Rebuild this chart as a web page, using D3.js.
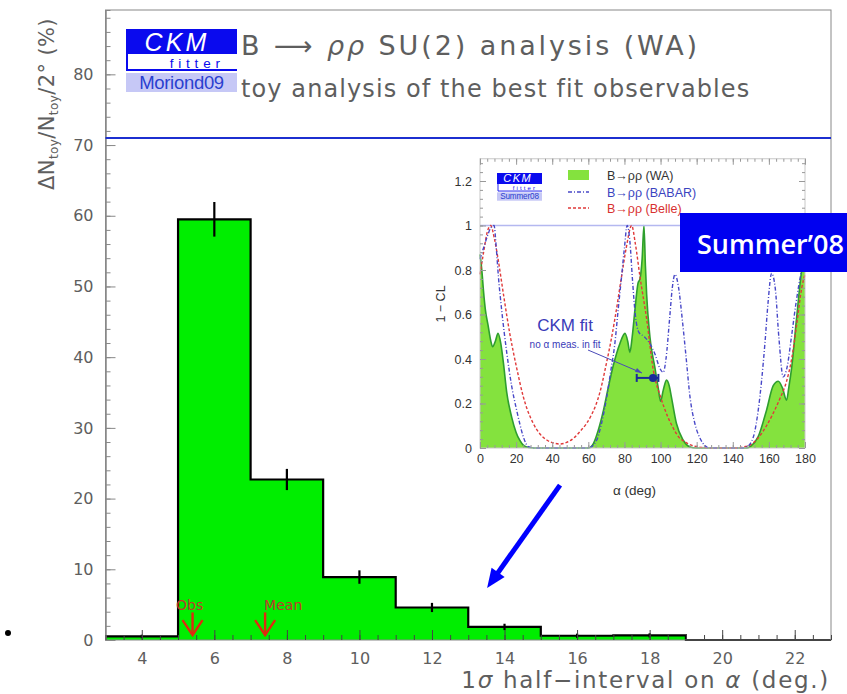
<!DOCTYPE html>
<html><head><meta charset="utf-8">
<script src="https://cdn.jsdelivr.net/npm/d3@7"></script>
<style>body{margin:0;background:#fff}svg{display:block}</style>
</head><body>
<svg id="c" width="847" height="694"></svg>
<script>
// ---- toy study histogram (1-sigma half interval on alpha) ----
const binEdges  = [3, 5, 7, 9, 11, 13, 15, 17, 19, 21, 23];
const binValues = [0.5, 59.5, 22.7, 8.9, 4.6, 1.85, 0.6, 0.65, 0, 0];
const binErrors = [0.25, 2.45, 1.5, 0.95, 0.65, 0.45, 0.3, 0.3, 0, 0];
const xTickLabels = [4, 6, 8, 10, 12, 14, 16, 18, 20, 22];
const yTickLabels = [0, 10, 20, 30, 40, 50, 60, 70, 80];
const markerNames  = ["Obs", "Mean"];
const markerValues = [5.4, 7.4];
const refLineLevel = 71;

// ---- inset: 1-CL versus alpha ----
const waAlpha = [0,1,2,3,4.5,6,7,8.5,10,11.5,13,14.8,17.5,20,22,24,27,30,60,62.8,65.5,68.4,71,73.8,77.5,80.3,81.8,83,84.3,85.8,87.5,88.6,89.8,90.8,91.6,92.3,94.1,96.9,98.7,100,101.5,103.3,104.8,106,108.8,112.5,116,120,148,150,154,158.7,162.4,165.2,167.5,169.8,171,172.6,175.3,178.2,180];
const waCL    = [0.87,0.8,0.7,0.62,0.55,0.48,0.455,0.48,0.515,0.47,0.38,0.25,0.14,0.07,0.035,0.013,0.002,0,0,0.02,0.08,0.17,0.27,0.37,0.47,0.515,0.48,0.43,0.5,0.62,0.74,0.76,0.85,1.0,0.82,0.69,0.5,0.36,0.27,0.21,0.26,0.305,0.28,0.23,0.11,0.036,0.006,0,0,0.008,0.05,0.17,0.28,0.3,0.27,0.215,0.27,0.36,0.58,0.8,0.87];
const babarAlpha = [0,2,4,6,7.8,9,10.2,12,14.8,17.5,20.3,22,24,26.8,30,60,64.6,67,70.2,72.5,74.7,76.5,78.4,80,81.5,83,84.5,86,88,91,94,97,99.5,101.5,103,105,106.5,108,110,112,114,116.3,119,121.5,123.6,127,145,147.7,151.4,154.1,157.8,159.5,161.5,163.5,165.5,167.9,170,172.5,175,178.2,180];
const babarCL    = [0.85,0.9,0.95,0.99,1.0,0.9,0.77,0.62,0.43,0.28,0.17,0.11,0.05,0.006,0,0,0.035,0.1,0.23,0.35,0.47,0.62,0.77,0.9,1.0,0.93,0.75,0.6,0.52,0.5,0.47,0.42,0.36,0.34,0.4,0.58,0.72,0.78,0.72,0.58,0.42,0.23,0.11,0.05,0.02,0,0,0.005,0.05,0.17,0.47,0.65,0.785,0.72,0.5,0.32,0.36,0.5,0.65,0.8,0.85];
const belleAlpha = [0,2,4,5.9,8,10.2,13,16.6,20.3,24,29.5,33,37,41,44,48,52,56,59,61.8,64,66.4,70,72.5,74.7,78.4,81,84,86,88.6,92.3,96,100,104,107,110,114,118,124,130,142,146,150,154,158.7,162,166,169.8,172.6,175.3,178.2,180];
const belleCL    = [0.78,0.88,0.97,1.0,0.94,0.84,0.69,0.51,0.36,0.23,0.11,0.065,0.036,0.022,0.018,0.025,0.045,0.08,0.11,0.15,0.19,0.25,0.38,0.48,0.58,0.77,0.9,1.0,0.92,0.77,0.58,0.35,0.23,0.14,0.09,0.05,0.025,0.01,0.002,0,0,0.005,0.015,0.045,0.1,0.15,0.22,0.3,0.4,0.55,0.72,0.78];
const insetXTicks = [0,20,40,60,80,100,120,140,160,180];
const insetYTicks = [0,0.2,0.4,0.6,0.8,1,1.2];
const legendNames = ["B\u2192\u03c1\u03c1 (WA)", "B\u2192\u03c1\u03c1 (BABAR)", "B\u2192\u03c1\u03c1 (Belle)"];
const fitAlpha = [95.8], fitLow = [86.8], fitHigh = [98.8], fitCL = [0.315];

const svg = d3.select("#c");
svg.append("rect").attr("width",847).attr("height",694).attr("fill","#fff");

const ROOTFONT = "'DejaVu Sans', sans-serif";
const INFONT = "'Liberation Sans', Arial, sans-serif";
const grey = "#5e5e5e";

// ---------- main frame ----------
const x = d3.scaleLinear().domain([3,23]).range([105.5,831]);
const y = d3.scaleLinear().domain([0,89.1]).range([640,10]);

// histogram fill + outline
const bins = binValues.map((v,i)=>({x0:binEdges[i], x1:binEdges[i+1], v, e:binErrors[i]}));
const step = [];
bins.forEach(d=>{ step.push([d.x0,d.v]); step.push([d.x1,d.v]); });
const g = svg.append("g");
g.append("path").attr("d", d3.area().x(d=>x(d[0])).y0(y(0)).y1(d=>y(d[1]))(step)).attr("fill","#00ee00");
g.append("path").attr("d", d3.line().x(d=>x(d[0])).y(d=>y(d[1]))(step))
  .attr("fill","none").attr("stroke","#000").attr("stroke-width",2.2);
g.selectAll("line.err").data(bins.filter(d=>d.e>0)).join("line").attr("class","err")
  .attr("x1",d=>x((d.x0+d.x1)/2)).attr("x2",d=>x((d.x0+d.x1)/2))
  .attr("y1",d=>y(d.v+d.e)).attr("y2",d=>y(d.v-d.e))
  .attr("stroke","#000").attr("stroke-width",2.2);

// frame
svg.append("rect").attr("x",x(3)).attr("y",y(89.1)).attr("width",x(23)-x(3)).attr("height",y(0)-y(89.1))
  .attr("fill","none").attr("stroke","#888").attr("stroke-width",1);

// axes (ticks drawn inward)
const yMinor = d3.range(0,89,2);
const xMinor = d3.range(3,23.01,0.5);
const axL = svg.append("g").attr("transform",`translate(${x(3)},0)`);
axL.call(d3.axisLeft(y).tickValues(yMinor).tickSize(-5).tickFormat(""));
axL.append("g").call(d3.axisLeft(y).tickValues(yTickLabels).tickSizeInner(-10).tickSizeOuter(0).tickPadding(12));
axL.selectAll(".domain").attr("stroke","#888");
axL.selectAll(".tick line").attr("stroke","#888");
axL.selectAll("text").attr("font-family",ROOTFONT).attr("font-size",16).attr("fill",grey);

const axB = svg.append("g").attr("transform",`translate(0,${y(0)})`);
axB.call(d3.axisBottom(x).tickValues(xMinor).tickSize(-5).tickFormat(""));
axB.append("g").call(d3.axisBottom(x).tickValues(xTickLabels).tickSizeInner(-10).tickSizeOuter(0).tickPadding(13));
axB.selectAll(".domain").remove();
axB.selectAll(".tick line").attr("stroke","#444");
axB.selectAll("text").attr("font-family",ROOTFONT).attr("font-size",16).attr("fill",grey);

// reference line
svg.append("line").attr("x1",x(3)).attr("x2",x(23)).attr("y1",y(refLineLevel)).attr("y2",y(refLineLevel))
  .attr("stroke","#1c2fd0").attr("stroke-width",2);

// axis titles
const yt = svg.append("text").attr("transform",`translate(54,104) rotate(-90)`)
  .attr("text-anchor","middle").attr("font-family",ROOTFONT).attr("font-size",21).attr("letter-spacing",0.4).attr("fill",grey);
yt.append("tspan").text("\u0394N");
yt.append("tspan").attr("font-size",12).attr("dy",4).text("toy");
yt.append("tspan").attr("dy",-4).text("/N");
yt.append("tspan").attr("font-size",12).attr("dy",4).text("toy");
yt.append("tspan").attr("dy",-4).text("/2\u00b0 (%)");

const xt = svg.append("text").attr("x",830).attr("y",688).attr("text-anchor","end")
  .attr("font-family",ROOTFONT).attr("font-size",23).attr("letter-spacing",1.7).attr("fill",grey);
xt.append("tspan").text("1");
xt.append("tspan").attr("font-style","italic").text("\u03c3");
xt.append("tspan").text(" half\u2212interval on ");
xt.append("tspan").attr("font-style","italic").text("\u03b1");
xt.append("tspan").text(" (deg.)");

// Obs / Mean markers
markerValues.forEach((v,i)=>{
  const px = x(v), tip = y(0.7), top = y(3.9);
  const mg = svg.append("g").attr("stroke","#e02a10").attr("stroke-width",2.4).attr("fill","none");
  mg.append("line").attr("x1",px).attr("x2",px).attr("y1",top).attr("y2",tip);
  mg.append("path").attr("d",`M${px-10},${tip-15}L${px},${tip}L${px+10},${tip-15}`);
  svg.append("text").attr("x", i===0 ? px-16.5 : px-1).attr("y",y(4.3))
    .attr("font-family",ROOTFONT).attr("font-size",14).attr("fill","#c0392b").text(markerNames[i]);
});

// titles and logo
function logo(gx, gy, w, s, tag){
  const lg = svg.append("g").attr("transform",`translate(${gx},${gy})`);
  lg.append("rect").attr("width",w).attr("height",25*s).attr("fill","#0a0aee");
  lg.append("text").attr("x",w*0.46).attr("y",21.5*s).attr("text-anchor","middle")
    .attr("font-family",INFONT).attr("font-style","italic").attr("font-size",25*s)
    .attr("letter-spacing",3.2*s).attr("fill","#fff").text("CKM");
  lg.append("path").attr("d",`M1,${25*s}V${41*s}H${w}`).attr("fill","none").attr("stroke","#0a0aee").attr("stroke-width",2*s);
  lg.append("text").attr("x",w*0.89).attr("y",38.5*s).attr("text-anchor","end")
    .attr("font-family",INFONT).attr("font-size",13.5*s).attr("letter-spacing",4.8*s).attr("fill","#0a0aee").text("fitter");
  lg.append("rect").attr("y",44*s).attr("width",w).attr("height",19*s).attr("fill","#c6c8f6");
  lg.append("text").attr("x",w/2).attr("y",59.5*s).attr("text-anchor","middle")
    .attr("font-family",INFONT).attr("font-size",18.5*s).attr("letter-spacing",-0.3*s).attr("fill","#2a3fcf").text(tag);
}
logo(126,29,111,1,"Moriond09");

const t1 = svg.append("text").attr("x",241).attr("y",55).attr("font-family",ROOTFONT).attr("font-size",27)
  .attr("letter-spacing",2.9).attr("fill",grey);
t1.append("tspan").text("B \u27f6 ");
t1.append("tspan").attr("font-style","italic").text("\u03c1\u03c1");
t1.append("tspan").text(" SU(2) analysis (WA)");
svg.append("text").attr("x",241).attr("y",97).attr("font-family",ROOTFONT).attr("font-size",24)
  .attr("letter-spacing",1.1).attr("fill",grey)
  .text("toy analysis of the best fit observables");

// ---------- inset ----------
const ix = d3.scaleLinear().domain([0,180]).range([480,805]);
const iy = d3.scaleLinear().domain([0,1.3]).range([448,158.75]);
const inset = svg.append("g");
const toPts = (a,c)=>a.map((v,i)=>[v,c[i]]);
const wa = toPts(waAlpha,waCL), babar = toPts(babarAlpha,babarCL), belle = toPts(belleAlpha,belleCL);

inset.append("path").attr("d", d3.area().curve(d3.curveMonotoneX).x(d=>ix(d[0])).y0(iy(0)).y1(d=>iy(d[1]))(wa))
  .attr("fill","#84e23e");
inset.append("path").attr("d", d3.line().curve(d3.curveMonotoneX).x(d=>ix(d[0])).y(d=>iy(d[1]))(wa))
  .attr("fill","none").attr("stroke","#2e9e2e").attr("stroke-width",1.6);
inset.append("line").attr("x1",ix(0)).attr("x2",ix(180)).attr("y1",iy(1)).attr("y2",iy(1))
  .attr("stroke","#b4b8f0").attr("stroke-width",1.5);
inset.append("path").attr("d", d3.line().curve(d3.curveMonotoneX).x(d=>ix(d[0])).y(d=>iy(d[1]))(belle))
  .attr("fill","none").attr("stroke","#e03a3a").attr("stroke-width",1.4).attr("stroke-dasharray","3,2");
inset.append("path").attr("d", d3.line().curve(d3.curveMonotoneX).x(d=>ix(d[0])).y(d=>iy(d[1]))(babar))
  .attr("fill","none").attr("stroke","#4848c8").attr("stroke-width",1.4).attr("stroke-dasharray","4,2,1,2");

// inset frame and axes
inset.append("rect").attr("x",ix(0)).attr("y",iy(1.3)).attr("width",ix(180)-ix(0)).attr("height",iy(0)-iy(1.3))
  .attr("fill","none").attr("stroke","#c8c8c8");
const iMinX = d3.range(0,180.1,4), iMinY = d3.range(0,1.3,0.04);
const ib = inset.append("g").attr("transform",`translate(0,${iy(0)})`);
ib.call(d3.axisBottom(ix).tickValues(iMinX).tickSize(-3).tickFormat(""));
ib.append("g").call(d3.axisBottom(ix).tickValues(insetXTicks).tickSizeInner(-6).tickSizeOuter(0).tickPadding(6).tickFormat(d3.format("d")));
const itop = inset.append("g").attr("transform",`translate(0,${iy(1.3)})`);
itop.call(d3.axisTop(ix).tickValues(iMinX).tickSize(-3).tickFormat(""));
itop.append("g").call(d3.axisTop(ix).tickValues(insetXTicks).tickSize(-6).tickFormat(""));
const il = inset.append("g").attr("transform",`translate(${ix(0)},0)`);
il.call(d3.axisLeft(iy).tickValues(iMinY).tickSize(-3).tickFormat(""));
il.append("g").call(d3.axisLeft(iy).tickValues(insetYTicks).tickSizeInner(-6).tickSizeOuter(0).tickPadding(8).tickFormat(d=>d3.format("~g")(d)));
const ir = inset.append("g").attr("transform",`translate(${ix(180)},0)`);
ir.call(d3.axisRight(iy).tickValues(iMinY).tickSize(-3).tickFormat(""));
ir.append("g").call(d3.axisRight(iy).tickValues(insetYTicks).tickSize(-6).tickFormat(""));
inset.selectAll(".domain").remove();
inset.selectAll(".tick line").attr("stroke","#999");
inset.selectAll("text").attr("font-family",INFONT).attr("font-size",12.5).attr("fill","#333");

inset.append("text").attr("transform",`translate(445,304) rotate(-90)`).attr("text-anchor","middle")
  .attr("font-family",INFONT).attr("font-size",12.5).attr("fill","#333").text("1 \u2212 CL");
inset.append("text").attr("x",613).attr("y",495).attr("font-family",INFONT).attr("font-size",13.5).attr("fill","#333")
  .text("\u03b1   (deg)");

// inset legend
logo(497,173,45,0.44,"Summer08");
inset.append("rect").attr("x",568).attr("y",170).attr("width",21).attr("height",10).attr("fill","#84e23e");
inset.append("line").attr("x1",568).attr("x2",589).attr("y1",192).attr("y2",192)
  .attr("stroke","#4848c8").attr("stroke-width",1.4).attr("stroke-dasharray","4,2,1,2");
inset.append("line").attr("x1",568).attr("x2",589).attr("y1",208).attr("y2",208)
  .attr("stroke","#e03a3a").attr("stroke-width",1.4).attr("stroke-dasharray","3,2");
const legCol = ["#333","#3a44c0","#d83030"];
legendNames.forEach((n,i)=>{
  inset.append("text").attr("x",607).attr("y",180+i*16.5).attr("font-family",INFONT).attr("font-size",12.5)
    .attr("fill",legCol[i]).text(n);
});

// CKM fit point
inset.append("text").attr("x",565).attr("y",331).attr("text-anchor","middle").attr("font-family",INFONT)
  .attr("font-size",17).attr("fill","#3a3ab8").text("CKM fit");
inset.append("text").attr("x",565).attr("y",348).attr("text-anchor","middle").attr("font-family",INFONT)
  .attr("font-size",10).attr("fill","#3a3ab8").text("no \u03b1 meas. in fit");
inset.append("line").attr("x1",588).attr("y1",350).attr("x2",642).attr("y2",373).attr("stroke","#4a4ab8").attr("stroke-width",1);
inset.append("path").attr("d","M642,373l-7,-1l2,-4z").attr("fill","#4a4ab8");
const fp = inset.append("g").attr("stroke","#1a2a9a").attr("stroke-width",2);
fp.append("line").attr("x1",ix(fitLow[0])).attr("x2",ix(fitHigh[0])).attr("y1",iy(fitCL[0])).attr("y2",iy(fitCL[0]));
fp.append("line").attr("x1",ix(fitLow[0])).attr("x2",ix(fitLow[0])).attr("y1",iy(fitCL[0])-4).attr("y2",iy(fitCL[0])+4);
fp.append("line").attr("x1",ix(fitHigh[0])).attr("x2",ix(fitHigh[0])).attr("y1",iy(fitCL[0])-4).attr("y2",iy(fitCL[0])+4);
inset.append("circle").attr("cx",ix(fitAlpha[0])).attr("cy",iy(fitCL[0])).attr("r",4).attr("fill","#1a2a9a");

// Summer'08 tag
svg.append("rect").attr("x",680).attr("y",213).attr("width",170).attr("height",59).attr("fill","#0000f0");
svg.append("text").attr("x",697).attr("y",254).attr("font-family","'Open Sans', sans-serif").attr("font-weight",600)
  .attr("font-size",27).attr("fill","#fff").text("Summer\u201908");

// pointer arrow (main-axis units)
const arrFrom = [15.53, 21.9], arrTo = [13.52, 7.36];
const ax0 = x(arrFrom[0]), ay0 = y(arrFrom[1]), ax1 = x(arrTo[0]), ay1 = y(arrTo[1]);
const L = Math.hypot(ax1-ax0, ay1-ay0), ux = (ax1-ax0)/L, uy = (ay1-ay0)/L;
const bx = ax1-ux*19, by = ay1-uy*19, px = -uy*8, py = ux*8;
svg.append("line").attr("x1",ax0).attr("y1",ay0).attr("x2",bx+ux*2).attr("y2",by+uy*2)
  .attr("stroke","#0000ff").attr("stroke-width",5);
svg.append("path").attr("d",`M${ax1},${ay1}L${bx+px},${by+py}L${bx-px},${by-py}Z`).attr("fill","#0000ff");

// bullet
svg.append("circle").attr("cx",8).attr("cy",633).attr("r",3).attr("fill","#000");
</script>
</body></html>
